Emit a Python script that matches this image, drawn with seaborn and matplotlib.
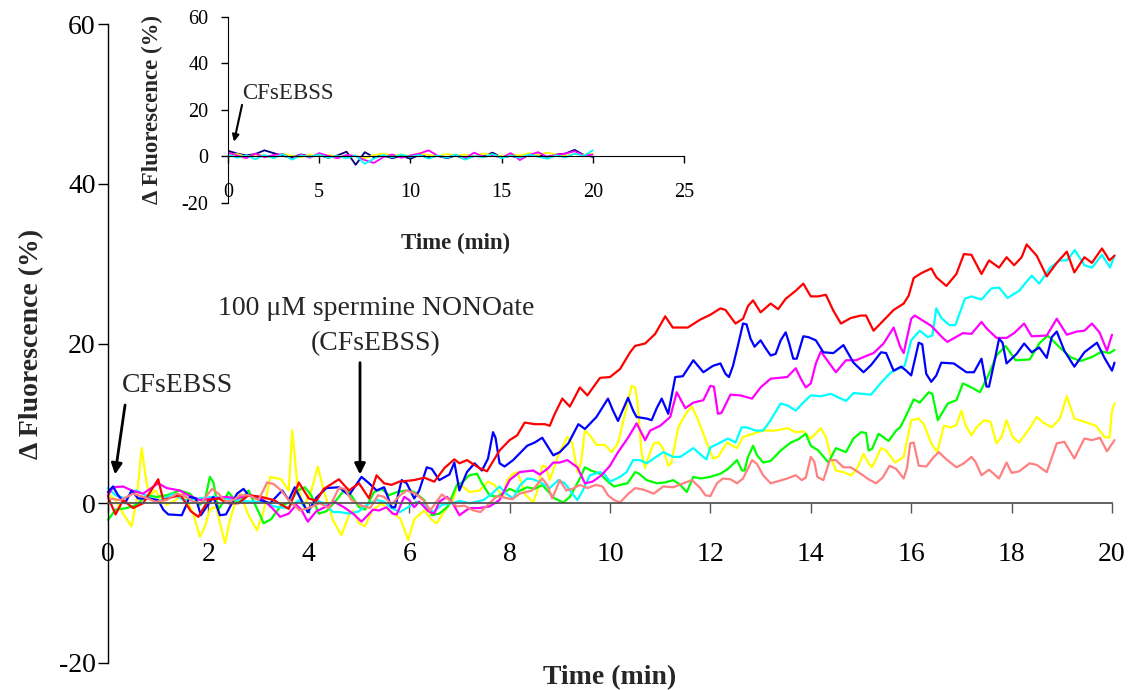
import matplotlib
matplotlib.use("Agg")
import matplotlib.pyplot as plt
import seaborn as sns

# ---------------- data (time in min, value in % change) ----------------
red_pts = [(0.0, 0.8), (0.15, -1.4), (0.3, 0.4), (0.5, -0.6), (0.7, 0.0), (0.85, 1.5), (1.0, 3.0), (1.1, 0.4),
           (1.3, 0.8), (1.45, 1.0), (1.65, -1.0), (1.8, -1.7), (2.0, 0.4), (2.2, 0.6), (2.4, 0.0), (2.6, 0.0),
           (2.8, 1.0), (3.05, 0.8), (3.3, 0.4), (3.6, -0.7), (3.8, 2.6), (4.0, 0.6), (4.15, 0.3), (4.3, 1.8),
           (4.6, 3.0), (4.8, 1.6), (5.0, 2.5), (5.2, 0.6), (5.35, 3.5), (5.5, 2.5), (5.65, 2.3), (5.8, 2.7),
           (6.1, 2.9), (6.3, 3.2), (6.5, 2.7), (6.7, 4.4), (6.9, 5.5), (7.0, 5.0), (7.15, 5.4), (7.4, 4.4),
           (7.55, 4.0), (7.8, 6.6), (8.0, 7.9), (8.15, 8.5), (8.3, 10.1), (8.5, 9.9), (8.7, 9.9), (8.8, 9.7),
           (8.9, 11.2), (9.05, 13.1), (9.2, 12.1), (9.4, 14.5), (9.55, 13.5), (9.8, 15.7), (10.0, 15.8),
           (10.2, 16.8), (10.4, 18.9), (10.5, 19.7), (10.7, 20.0), (10.9, 21.2), (11.1, 23.4), (11.25, 22.0),
           (11.55, 22.0), (11.8, 23.0), (12.0, 23.6), (12.2, 24.4), (12.3, 24.2), (12.5, 22.5), (12.65, 23.1),
           (12.75, 24.7), (12.85, 25.4), (13.0, 23.9), (13.2, 25.0), (13.35, 24.3), (13.5, 25.6), (13.7, 26.6),
           (13.85, 27.5), (14.0, 25.9), (14.15, 25.9), (14.3, 26.1), (14.45, 24.1), (14.6, 22.5), (14.8, 23.2),
           (15.0, 23.5), (15.1, 23.5), (15.25, 21.6), (15.45, 22.9), (15.65, 24.2), (15.85, 25.0), (15.95, 26.0),
           (16.05, 28.2), (16.2, 28.8), (16.4, 29.4), (16.5, 28.3), (16.7, 27.2), (16.9, 28.7), (17.05, 31.2),
           (17.2, 31.1), (17.4, 28.7), (17.55, 30.4), (17.75, 29.5), (17.9, 30.8), (18.05, 29.8), (18.2, 30.8),
           (18.3, 32.4), (18.5, 31.0), (18.7, 28.4), (18.9, 30.1), (19.1, 31.5), (19.25, 28.9), (19.45, 30.8),
           (19.6, 30.1), (19.8, 31.9), (19.95, 30.4), (20.05, 31.0)]

blue_pts = [(0.0, 1.4), (0.1, 2.1), (0.2, 1.0), (0.34, 0.0), (0.47, 1.6), (0.6, 0.6), (0.8, 0.6), (1.0, 0.4),
            (1.1, -0.8), (1.2, -1.4), (1.47, -1.5), (1.63, 0.8), (1.75, 0.6), (1.85, -1.5), (2.1, 0.8),
            (2.23, -1.5), (2.35, -1.4), (2.57, 1.2), (2.7, 1.8), (2.8, 1.0), (3.03, 0.4), (3.23, 0.0), (3.47, 1.6),
            (3.6, 0.4), (3.72, 2.0), (3.85, 0.4), (3.98, -1.1), (4.15, 0.7), (4.35, 1.9), (4.6, 2.0), (4.8, 1.0),
            (5.05, 3.3), (5.2, 2.5), (5.35, 1.6), (5.5, 2.0), (5.65, -0.5), (5.72, -0.5), (5.85, 2.9), (5.95, 2.5),
            (6.1, 0.6), (6.2, 1.6), (6.35, 4.5), (6.45, 4.3), (6.6, 2.9), (6.8, 3.6), (6.9, 5.1), (7.0, 1.6),
            (7.15, 3.9), (7.3, 5.0), (7.45, 4.1), (7.57, 5.6), (7.67, 8.9), (7.72, 8.2), (7.8, 5.0), (7.9, 4.6),
            (8.07, 5.4), (8.35, 7.2), (8.5, 7.6), (8.65, 8.2), (8.75, 7.2), (8.87, 6.0), (9.0, 6.4), (9.17, 7.5),
            (9.37, 9.9), (9.5, 9.3), (9.73, 10.8), (9.96, 13.1), (10.06, 11.6), (10.16, 10.3), (10.36, 13.2),
            (10.46, 11.6), (10.53, 10.8), (10.73, 10.6), (10.83, 10.4), (10.93, 11.9), (11.03, 13.1),
            (11.16, 11.2), (11.3, 15.8), (11.45, 15.9), (11.66, 17.9), (11.86, 16.4), (12.05, 17.2), (12.2, 17.5),
            (12.3, 16.2), (12.37, 15.8), (12.45, 17.2), (12.55, 19.8), (12.65, 22.5), (12.72, 22.4), (12.8, 20.6),
            (12.88, 19.6), (13.0, 20.4), (13.1, 19.4), (13.2, 18.5), (13.3, 18.7), (13.4, 20.4), (13.5, 21.4),
            (13.57, 20.0), (13.65, 18.1), (13.72, 18.1), (13.85, 20.9), (13.95, 20.8), (14.1, 20.4),
            (14.25, 18.9), (14.45, 18.8), (14.65, 19.8), (14.85, 17.6), (15.05, 16.4), (15.2, 17.3), (15.4, 18.9),
            (15.5, 18.8), (15.65, 16.6), (15.8, 17.1), (15.9, 16.6), (16.0, 16.0), (16.15, 20.1), (16.22, 19.9),
            (16.3, 16.2), (16.4, 15.2), (16.5, 16.0), (16.6, 17.6), (16.85, 17.5), (17.1, 16.4), (17.25, 16.4),
            (17.4, 18.1), (17.5, 14.6), (17.55, 14.6), (17.65, 17.5), (17.75, 20.6), (17.82, 20.1), (17.9, 17.5),
            (18.1, 18.7), (18.25, 20.0), (18.4, 18.9), (18.55, 19.5), (18.7, 18.2), (18.8, 20.8), (18.9, 21.5),
            (19.05, 19.1), (19.25, 17.1), (19.45, 18.9), (19.7, 20.1), (19.85, 18.2), (20.0, 16.6), (20.05, 17.6)]

magenta_pts = [(0.0, 1.0), (0.1, 2.0), (0.3, 2.1), (0.47, 1.6), (0.7, 1.2), (1.0, 2.5), (1.17, 1.9), (1.43, 1.6),
               (1.6, 1.0), (1.83, 0.4), (2.1, 0.6), (2.35, 0.8), (2.57, 0.6), (2.77, 1.0), (3.0, 0.8), (3.1, 0.4),
               (3.27, -0.6), (3.43, -1.7), (3.6, -1.3), (3.75, -0.2), (3.85, -0.8), (3.98, -2.3), (4.15, -1.0),
               (4.35, -0.4), (4.5, 0.2), (4.7, -0.5), (4.88, -1.3), (5.05, -2.3), (5.28, -0.8), (5.4, -0.9),
               (5.55, -0.5), (5.67, -1.3), (5.75, -1.4), (5.9, 0.8), (6.0, 0.4), (6.1, -0.5), (6.2, 0.2),
               (6.38, -1.0), (6.5, -1.3), (6.6, 0.2), (6.75, 0.8), (6.85, 0.2), (7.0, -1.5), (7.2, -0.6),
               (7.4, -0.6), (7.6, -0.4), (7.8, 0.4), (8.0, 2.9), (8.2, 3.9), (8.47, 4.1), (8.6, 3.6), (8.77, 4.4),
               (8.87, 5.1), (9.0, 5.1), (9.15, 5.4), (9.35, 4.5), (9.5, 2.5), (9.65, 2.7), (9.83, 3.5), (10.0, 4.7),
               (10.16, 6.4), (10.36, 8.2), (10.53, 10.0), (10.7, 7.9), (10.8, 9.1), (11.0, 9.7), (11.2, 10.8),
               (11.33, 13.9), (11.5, 11.9), (11.66, 12.6), (11.86, 12.9), (12.0, 14.7), (12.07, 14.6),
               (12.15, 11.2), (12.22, 11.3), (12.4, 13.6), (12.6, 13.5), (12.83, 13.1), (13.0, 14.5), (13.2, 15.6),
               (13.53, 15.8), (13.7, 16.9), (13.8, 15.6), (13.9, 14.5), (14.0, 15.0), (14.1, 17.5), (14.2, 19.0),
               (14.35, 17.7), (14.5, 16.4), (14.7, 17.9), (14.9, 17.9), (15.05, 18.3), (15.25, 18.8), (15.45, 20.0),
               (15.65, 22.0), (15.78, 19.6), (15.85, 18.8), (16.0, 23.1), (16.07, 23.5), (16.3, 22.6),
               (16.4, 22.2), (16.63, 20.7), (16.72, 20.2), (17.03, 21.3), (17.2, 21.2), (17.4, 22.7), (17.5, 21.9),
               (17.7, 20.7), (17.9, 20.7), (18.05, 21.3), (18.25, 22.5), (18.4, 20.9), (18.7, 21.0), (18.9, 23.1),
               (19.1, 21.1), (19.3, 21.5), (19.45, 21.6), (19.6, 22.5), (19.75, 21.4), (19.9, 19.1), (20.0, 21.1)]

cyan_pts = [(0.0, 1.9), (0.15, 1.0), (0.35, 0.6), (0.57, 1.6), (0.8, 0.8), (1.0, 0.2), (1.3, 1.2), (1.5, 0.4),
            (1.8, 0.6), (2.1, 0.8), (2.35, 0.6), (2.57, 0.4), (2.85, 0.2), (3.1, 0.2), (3.3, -0.4), (3.55, -0.6),
            (3.82, 0.4), (3.98, -1.1), (4.15, 0.4), (4.35, -0.2), (4.48, -1.1), (4.6, -1.1), (4.82, -1.3),
            (5.0, -1.0), (5.15, -0.2), (5.35, 0.4), (5.5, 0.2), (5.65, -0.6), (5.82, -1.1), (6.0, -0.4),
            (6.15, 0.2), (6.3, -0.2), (6.48, -1.1), (6.65, -0.2), (6.85, 0.0), (7.0, 0.3), (7.2, 0.0), (7.48, 0.4),
            (7.65, 1.2), (7.8, 2.1), (7.93, 1.2), (8.07, 0.6), (8.2, 2.2), (8.35, 3.1), (8.47, 3.0), (8.62, 2.6),
            (8.8, 1.9), (8.97, 2.9), (9.1, 2.5), (9.25, 1.2), (9.35, 0.4), (9.45, 1.5), (9.6, 3.5), (9.8, 3.9),
            (9.88, 3.7), (10.0, 2.7), (10.2, 3.3), (10.33, 3.9), (10.46, 5.4), (10.6, 5.4), (10.73, 5.0),
            (10.87, 5.6), (11.06, 6.4), (11.26, 5.8), (11.4, 5.8), (11.66, 6.9), (11.86, 5.8), (11.92, 5.5),
            (12.0, 7.0), (12.2, 7.6), (12.35, 8.1), (12.5, 7.6), (12.62, 9.5), (12.72, 9.5), (12.9, 9.1),
            (13.05, 9.1), (13.2, 10.4), (13.4, 12.5), (13.55, 12.2), (13.7, 11.6), (13.85, 12.6), (14.0, 13.5),
            (14.2, 13.4), (14.4, 13.7), (14.7, 12.8), (14.85, 13.8), (15.2, 13.6), (15.4, 15.1), (15.6, 16.4),
            (15.87, 17.2), (16.0, 20.4), (16.17, 21.6), (16.33, 20.8), (16.42, 21.0), (16.5, 24.4), (16.6, 23.2),
            (16.76, 22.3), (16.88, 22.3), (17.07, 25.6), (17.2, 25.9), (17.4, 25.5), (17.6, 26.9), (17.75, 27.0),
            (17.92, 25.7), (18.15, 26.6), (18.4, 28.5), (18.55, 27.5), (18.77, 29.5), (18.96, 30.4), (19.1, 30.4),
            (19.26, 31.7), (19.45, 29.8), (19.6, 29.5), (19.8, 31.1), (19.96, 29.5), (20.05, 31.0)]

green_pts = [(0.0, -2.1), (0.15, -0.8), (0.37, -0.6), (0.57, -0.2), (0.77, 1.0), (0.97, 0.8), (1.17, 1.0),
             (1.43, 1.6), (1.63, 1.2), (1.83, -0.2), (1.93, 0.4), (2.03, 3.3), (2.1, 2.6), (2.2, -0.8), (2.3, 0.2),
             (2.4, 1.4), (2.55, 0.2), (2.65, 0.4), (2.8, 1.6), (3.0, -1.1), (3.1, -2.5), (3.25, -2.0), (3.43, -0.4),
             (3.63, 0.2), (3.78, 1.6), (3.92, 2.0), (4.05, 1.0), (4.2, -1.3), (4.35, -1.0), (4.55, 0.4),
             (4.7, 1.6), (4.8, 1.4), (5.0, -0.5), (5.12, -0.8), (5.3, 1.4), (5.45, 1.8), (5.6, 1.0), (5.75, 1.4),
             (5.95, 1.6), (6.1, 1.4), (6.3, 0.4), (6.45, -1.5), (6.6, -1.3), (6.77, -0.4), (6.95, 2.3), (7.05, 2.6),
             (7.2, 3.5), (7.35, 3.7), (7.45, 2.5), (7.6, 1.0), (7.75, 0.8), (7.9, 1.4), (8.0, 1.8), (8.15, 1.4),
             (8.35, 2.0), (8.5, 1.8), (8.65, 2.3), (8.75, 1.6), (8.9, 0.6), (9.07, 0.1), (9.2, 0.8), (9.4, 3.1),
             (9.5, 4.5), (9.62, 4.1), (9.8, 3.7), (9.96, 2.7), (10.08, 2.1), (10.2, 2.3), (10.35, 2.5), (10.5, 3.9),
             (10.58, 3.7), (10.73, 2.9), (10.93, 2.5), (11.1, 2.6), (11.26, 2.9), (11.4, 2.3), (11.53, 1.4),
             (11.66, 3.3), (11.8, 3.1), (12.0, 3.3), (12.2, 3.7), (12.35, 4.3), (12.53, 5.4), (12.63, 4.1),
             (12.68, 4.1), (12.75, 5.8), (12.85, 7.2), (12.93, 6.0), (13.05, 5.1), (13.2, 5.3), (13.4, 6.6),
             (13.6, 7.6), (13.75, 8.0), (13.9, 8.7), (14.0, 7.2), (14.15, 6.6), (14.35, 5.1), (14.5, 6.9),
             (14.7, 6.4), (14.85, 8.1), (15.0, 8.9), (15.1, 8.8), (15.15, 6.6), (15.22, 6.8), (15.35, 8.7),
             (15.55, 7.8), (15.7, 9.1), (15.78, 9.5), (15.87, 10.6), (16.05, 13.0), (16.17, 12.6), (16.35, 13.9),
             (16.42, 13.7), (16.53, 10.4), (16.73, 12.5), (16.9, 12.9), (17.03, 15.0), (17.2, 14.5),
             (17.37, 13.9), (17.55, 16.2), (17.7, 18.5), (17.88, 19.7), (18.08, 17.9), (18.36, 18.0),
             (18.55, 20.0), (18.72, 21.0), (18.96, 19.5), (19.17, 18.3), (19.37, 17.8), (19.6, 18.3),
             (19.8, 19.0), (19.95, 18.8), (20.05, 19.2)]

yellow_pts = [(0.0, 1.2), (0.15, 0.4), (0.3, -1.3), (0.47, -2.9), (0.57, 0.4), (0.67, 6.9), (0.77, 2.5),
              (0.83, 1.0), (0.95, 1.6), (1.05, 0.4), (1.17, -0.2), (1.35, 0.4), (1.5, 1.2), (1.7, -1.3),
              (1.83, -4.2), (1.93, -2.9), (2.03, -0.8), (2.15, -0.4), (2.33, -5.0), (2.43, -2.1), (2.53, 0.0),
              (2.63, 1.2), (2.8, -1.5), (2.97, -3.4), (3.1, -1.0), (3.23, 3.3), (3.45, 3.0), (3.6, 1.6),
              (3.67, 9.1), (3.77, 2.5), (3.9, -0.5), (4.05, 1.6), (4.18, 4.6), (4.3, 1.5), (4.48, -2.1),
              (4.65, -4.0), (4.8, -1.5), (4.88, -0.9), (5.0, -2.5), (5.12, -2.9), (5.25, -1.0), (5.45, 0.0),
              (5.6, -0.9), (5.82, -1.9), (5.98, -4.6), (6.1, -2.0), (6.3, -0.9), (6.45, -2.1), (6.55, -2.5),
              (6.7, -1.0), (6.87, 0.4), (6.97, 2.5), (7.05, 2.2), (7.2, 1.4), (7.4, 1.6), (7.57, 2.7), (7.7, 2.3),
              (7.87, 0.8), (7.95, 2.9), (8.07, 3.7), (8.15, 3.9), (8.22, 2.8), (8.3, 1.2), (8.47, 0.1), (8.55, 1.5),
              (8.65, 4.7), (8.72, 4.6), (8.8, 2.9), (8.97, 6.0), (9.15, 8.3), (9.25, 7.5), (9.35, 3.9), (9.42, 5.0),
              (9.5, 9.1), (9.6, 8.5), (9.73, 7.3), (9.9, 7.3), (10.03, 6.4), (10.16, 7.5), (10.3, 11.2),
              (10.43, 14.7), (10.5, 14.5), (10.55, 12.5), (10.63, 6.2), (10.7, 4.4), (10.75, 5.5), (10.87, 7.5),
              (10.97, 7.6), (11.06, 6.8), (11.16, 4.7), (11.22, 5.0), (11.36, 9.5), (11.53, 11.4), (11.63, 12.1),
              (11.75, 10.5), (11.86, 8.7), (11.96, 7.0), (12.05, 5.6), (12.15, 5.8), (12.33, 7.6), (12.53, 6.9),
              (12.65, 8.3), (12.85, 8.7), (13.05, 9.1), (13.3, 9.1), (13.53, 9.4), (13.7, 8.9), (13.85, 9.0),
              (14.0, 8.1), (14.2, 9.4), (14.3, 8.3), (14.42, 5.4), (14.5, 4.1), (14.65, 3.9), (14.8, 3.5),
              (14.92, 4.3), (15.05, 6.2), (15.15, 5.0), (15.22, 4.5), (15.4, 6.9), (15.5, 6.6), (15.68, 5.1),
              (15.85, 5.8), (16.0, 10.4), (16.15, 10.6), (16.25, 9.9), (16.4, 7.5), (16.52, 6.4), (16.65, 9.7),
              (16.8, 9.5), (16.9, 9.8), (17.0, 11.6), (17.08, 9.8), (17.2, 8.5), (17.3, 9.5), (17.45, 10.4),
              (17.58, 10.2), (17.7, 7.5), (17.8, 8.3), (17.9, 10.4), (18.02, 8.3), (18.15, 7.6), (18.35, 9.3),
              (18.5, 10.8), (18.65, 10.0), (18.8, 9.5), (18.96, 10.6), (19.1, 13.4), (19.25, 10.6), (19.45, 10.2),
              (19.68, 9.7), (19.85, 8.3), (19.95, 8.2), (20.0, 11.6), (20.05, 12.5)]

salmon_pts = [(0.0, 0.6), (0.25, 0.4), (0.5, 1.2), (0.7, 0.8), (0.95, 0.2), (1.17, 0.4), (1.37, 1.2), (1.5, 1.0),
              (1.7, 0.2), (1.85, 0.0), (2.07, 1.8), (2.2, 1.2), (2.35, 0.2), (2.5, 0.4), (2.63, 1.0), (2.8, 1.0),
              (3.0, 0.4), (3.17, 2.6), (3.3, 2.4), (3.45, 1.6), (3.6, 0.4), (3.82, -0.9), (4.0, -0.6), (4.22, 0.0),
              (4.4, -0.6), (4.6, 1.9), (4.72, 1.8), (4.85, 0.4), (5.05, -0.3), (5.22, -0.6), (5.38, 1.0),
              (5.5, 0.8), (5.65, -0.1), (5.82, 1.0), (5.95, 1.6), (6.12, 1.2), (6.28, 0.4), (6.42, -0.9),
              (6.52, 0.0), (6.65, 1.1), (6.8, 0.4), (6.95, -0.4), (7.1, -0.3), (7.28, -0.9), (7.42, -1.1),
              (7.55, -0.3), (7.75, 0.9), (7.9, 0.7), (8.05, 0.5), (8.2, 1.2), (8.45, 1.6), (8.65, 3.1), (8.75, 2.3),
              (8.85, 0.6), (9.0, 2.9), (9.13, 1.6), (9.25, 1.8), (9.4, 2.3), (9.55, 1.9), (9.72, 2.3), (9.85, 2.1),
              (9.96, 1.0), (10.08, 0.4), (10.2, 0.1), (10.35, 1.1), (10.5, 1.9), (10.67, 1.7), (10.87, 1.2),
              (11.06, 2.1), (11.26, 2.0), (11.42, 2.4), (11.63, 2.9), (11.8, 1.9), (11.9, 1.0), (12.0, 0.9),
              (12.13, 2.5), (12.25, 3.1), (12.4, 3.0), (12.53, 2.5), (12.65, 3.1), (12.83, 5.4), (12.93, 4.9),
              (13.05, 3.5), (13.2, 2.5), (13.37, 2.8), (13.53, 3.1), (13.7, 3.5), (13.82, 2.9), (13.9, 3.2),
              (14.0, 5.8), (14.07, 5.2), (14.13, 3.3), (14.25, 2.9), (14.38, 5.4), (14.5, 5.4), (14.65, 4.5),
              (14.8, 4.5), (14.97, 3.8), (15.15, 3.0), (15.3, 2.5), (15.43, 3.2), (15.57, 4.7), (15.7, 4.3),
              (15.85, 3.1), (15.92, 4.5), (15.98, 7.5), (16.05, 7.6), (16.15, 4.7), (16.3, 4.6), (16.45, 5.8),
              (16.55, 6.4), (16.7, 5.5), (16.9, 4.5), (17.05, 5.0), (17.2, 5.8), (17.28, 5.2), (17.4, 3.5),
              (17.55, 4.2), (17.75, 3.1), (17.9, 5.1), (18.0, 3.8), (18.15, 4.0), (18.36, 5.0), (18.5, 4.8),
              (18.7, 3.9), (18.9, 7.5), (19.05, 7.7), (19.25, 5.6), (19.45, 8.1), (19.6, 7.9), (19.76, 8.2),
              (19.9, 6.5), (20.05, 7.9)]

# inset (control experiment), sampled every 0.5 min
inset_time = [0.0, 0.5, 1.0, 1.5, 2.0, 2.5, 3.0, 3.5, 4.0, 4.5, 5.0, 5.5, 6.0, 6.5, 7.0, 7.5, 8.0, 8.5, 9.0, 9.5,
              10.0, 10.5, 11.0, 11.5, 12.0, 12.5, 13.0, 13.5, 14.0, 14.5, 15.0, 15.5, 16.0, 16.5, 17.0, 17.5,
              18.0, 18.5, 19.0, 19.5, 20.0]
inset_navy = [2.4, 1.2, 0.4, 1.0, 2.6, 1.4, 0.2, -0.4, 0.8, 0.0, 0.6, -0.6, 0.4, 2.0, -3.6, 1.8, -0.4, 0.4, -0.8,
              0.2, -1.0, 0.6, -0.4, 0.2, -0.8, 0.4, -1.2, 0.2, 0.0, 1.6, -0.4, 0.2, -0.6, 0.4, 0.8, -0.2, 0.8, 1.2,
              2.8, 0.6, -0.2]
inset_yellow = [0.6, 1.0, -0.2, 0.8, 0.4, -0.6, 1.2, 0.2, -0.4, 0.8, 0.0, 0.6, -0.2, 0.4, 0.2, -0.8, 0.6, 1.2,
                0.4, 0.8, 0.2, 1.4, 0.6, 0.2, 1.0, 0.4, 0.8, 0.2, 1.2, 0.6, 0.0, 1.0, 0.4, 1.4, 0.6, 1.6, 0.8,
                0.2, 1.0, 0.6, 1.2]
inset_magenta = [1.6, 0.4, -0.8, 1.2, -0.4, 0.6, 1.0, -1.2, 0.8, -0.6, 1.4, 0.2, -0.8, 0.6, 0.2, -1.6, -2.8, -0.4,
                 0.8, -0.6, 0.4, 1.2, 2.6, 0.2, -0.4, 0.6, -0.8, 1.6, -0.2, 0.4, -0.6, 1.4, -1.6, 0.6, 1.8, -0.2,
                 0.6, 1.2, 2.2, 0.4, 0.8]
inset_cyan = [0.8, -0.6, 0.4, -1.2, 0.6, -0.8, 1.0, -1.4, 0.4, -0.2, 0.8, -0.6, 0.2, -0.8, 0.4, -3.2, -1.0, 0.6,
              -0.4, 0.8, -0.2, 0.6, -1.0, 0.4, -0.6, 0.8, -1.4, 0.2, -0.4, 1.0, -0.8, 0.4, -0.6, 0.8, -0.2, -1.0,
              0.4, -0.4, 1.2, 0.2, 2.6]

main_xticks = [0, 2, 4, 6, 8, 10, 12, 14, 16, 18, 20]
main_yticks = [-20, 0, 20, 40, 60]
inset_xticks = [0, 5, 10, 15, 20, 25]
inset_yticks = [-20, 0, 20, 40, 60]

# ---------------- style ----------------
sns.set_style("ticks")
plt.rcParams["font.family"] = ["Liberation Serif", "DejaVu Serif"]
plt.rcParams["axes.edgecolor"] = "black"
plt.rcParams["xtick.color"] = "black"
plt.rcParams["ytick.color"] = "black"
plt.rcParams["axes.unicode_minus"] = False

W, H = 1135, 690
fig = plt.figure(figsize=(W / 100, H / 100), dpi=100)

# ---------------- main axes ----------------
ax = fig.add_axes([108 / W, 1 - 663 / H, 1004 / W, 639 / H])
ax.patch.set_alpha(0)

main_series = [(yellow_pts, "#FFFF00"), (green_pts, "#00FF00"), (cyan_pts, "#00FFFF"),
               (magenta_pts, "#FF00FF"), (blue_pts, "#0000FF"), (red_pts, "#FF0000"),
               (salmon_pts, "#FF8080")]
for pts, col in main_series:
    tt, vv = zip(*pts)
    sns.lineplot(x=list(tt), y=list(vv), ax=ax, color=col, linewidth=1.6,
                 estimator=None, sort=False, legend=False)
for ln in ax.lines:
    ln.set_clip_on(False)

ax.set_xlim(0, 20)
ax.set_ylim(-20, 60)
ax.set_xticks(main_xticks)
ax.set_yticks(main_yticks)
ax.spines["bottom"].set_position(("data", 0))
ax.spines["bottom"].set_color("#555555")
ax.spines["bottom"].set_linewidth(1.3)
ax.spines["left"].set_linewidth(1.0)
ax.spines["top"].set_visible(False)
ax.spines["right"].set_visible(False)
ax.tick_params(axis="x", direction="out", length=7, width=1.0, pad=21, labelsize=20, color="#555555")
ax.tick_params(axis="y", direction="out", length=7, width=1.0, pad=2, labelsize=20)

ax.set_xlabel("Time (min)", fontsize=20, fontweight="bold")
ax.xaxis.set_label_coords(0.5, -0.003)
ax.set_ylabel("Δ Fluorescence (%)", fontsize=20, fontweight="bold")
ax.yaxis.set_label_coords(-0.064, 0.5)

arrow_kw = dict(arrowstyle="-|>", color="black", lw=2.0, shrinkA=0, shrinkB=0, mutation_scale=16)
ax.annotate("", xy=(0.14, 3.6), xytext=(0.34, 12.3), arrowprops=arrow_kw)
ax.text(1.39, 14.75, "CFsEBSS", ha="center", va="center", fontsize=20)
ax.annotate("", xy=(5.02, 3.6), xytext=(5.02, 17.6), arrowprops=arrow_kw)
ax.text(5.34, 24.4, "100 μM spermine NONOate", ha="center", va="center", fontsize=20)
ax.text(5.34, 20.0, "(CFsEBSS)", ha="center", va="center", fontsize=20)

# ---------------- inset axes ----------------
ax2 = fig.add_axes([228 / W, 1 - 203 / H, 456 / W, 186.5 / H])
ax2.patch.set_alpha(0)
for vals, col in [(inset_navy, "#000080"), (inset_yellow, "#FFFF00"),
                  (inset_magenta, "#FF00FF"), (inset_cyan, "#00FFFF")]:
    sns.lineplot(x=inset_time, y=vals, ax=ax2, color=col, linewidth=1.3,
                 estimator=None, sort=False, legend=False)
ax2.set_xlim(0, 25)
ax2.set_ylim(-20, 60)
ax2.set_xticks(inset_xticks)
ax2.set_yticks(inset_yticks)
ax2.spines["bottom"].set_position(("data", 0))
ax2.spines["top"].set_visible(False)
ax2.spines["right"].set_visible(False)
ax2.tick_params(axis="x", direction="out", length=5, width=1.0, pad=14, labelsize=14.5)
ax2.tick_params(axis="y", direction="out", length=5, width=1.0, pad=9, labelsize=14.5)
ax2.set_xlabel("Time (min)", fontsize=16.5, fontweight="bold")
ax2.xaxis.set_label_coords(0.5, -0.16)
ax2.set_ylabel("Δ Fluorescence (%)", fontsize=16.5, fontweight="bold")
ax2.yaxis.set_label_coords(-0.142, 0.5)

arrow_kw2 = dict(arrowstyle="-|>", color="black", lw=1.5, shrinkA=0, shrinkB=0, mutation_scale=10)
ax2.annotate("", xy=(0.33, 6.3), xytext=(0.77, 22.1), arrowprops=arrow_kw2)
ax2.text(3.29, 26.9, "CFsEBSS", ha="center", va="center", fontsize=16.5)

fig.savefig("out.png", dpi=100)
